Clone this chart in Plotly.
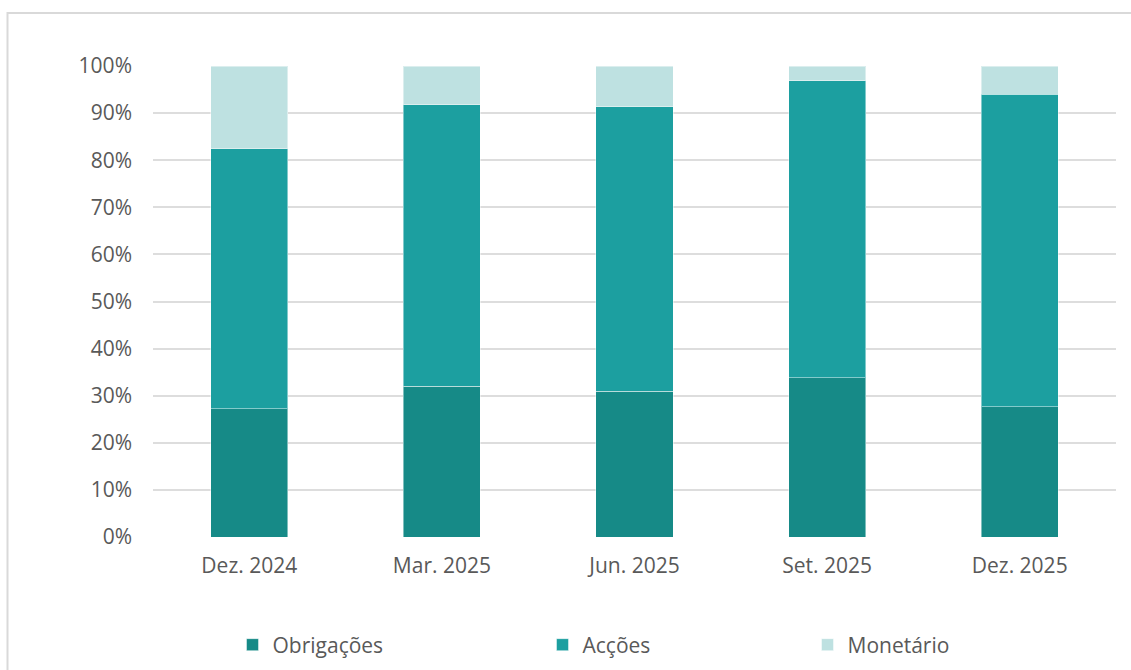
import plotly.graph_objects as go

# Composição da carteira por trimestre (% do total)
periodos = ["Dez. 2024", "Mar. 2025", "Jun. 2025", "Set. 2025", "Dez. 2025"]
obrigacoes = [27.2, 32.0, 30.9, 33.8, 27.7]
accoes = [55.2, 59.8, 60.5, 63.1, 66.3]
monetario = [17.6, 8.2, 8.6, 3.1, 6.0]

series = [
    ("Obrigações", obrigacoes, "#168A87", "legend"),
    ("Acções", accoes, "#1C9FA0", "legend2"),
    ("Monetário", monetario, "#BEE1E1", "legend3"),
]

FONT = "Open Sans, sans-serif"
TXT = "#595959"
FS = 21

fig = go.Figure()
for nome, valores, cor, leg in series:
    fig.add_trace(go.Bar(
        x=periodos, y=valores, name=nome, legend=leg, showlegend=True,
        marker=dict(color=cor, line=dict(color="rgba(255,255,255,0.45)", width=1)),
        hovertemplate="%{x}<br>" + nome + ": %{y:.1f}%<extra></extra>",
    ))

W, H = 1131, 670
ml, mr, mt, mb = 153, 15, 66, 133
pw, ph = W - ml - mr, H - mt - mb

def px_x(px):
    return (px - ml) / pw

def px_y(py):
    return (H - mb - py) / ph

legend_common = dict(
    orientation="h", yanchor="middle", xanchor="left",
    xref="container", yref="container",
    y=1 - 645 / H, font=dict(family=FONT, size=FS, color=TXT),
    bgcolor="rgba(0,0,0,0)",
)

fig.update_layout(
    width=W, height=H,
    margin=dict(l=ml, r=mr, t=mt, b=mb, autoexpand=False),
    paper_bgcolor="white", plot_bgcolor="white",
    barmode="stack", bargap=0.6, showlegend=True,
    font=dict(family=FONT, size=FS, color=TXT),
    legend=dict(legend_common, x=232.5 / W),
    legend2=dict(legend_common, x=542.5 / W),
    legend3=dict(legend_common, x=807.5 / W),
    xaxis=dict(
        showline=False, showgrid=False, ticks="",
        ticklabelstandoff=14,
        tickfont=dict(family=FONT, size=FS, color=TXT),
    ),
    yaxis=dict(
        range=[0, 100], dtick=10, ticksuffix="%",
        showgrid=True, gridcolor="#DDDDDD", gridwidth=2,
        zeroline=False, showline=False, ticks="",
        ticklabelstandoff=20,
        tickfont=dict(family=FONT, size=FS, color=TXT),
    ),
    shapes=[dict(
        type="rect", xref="paper", yref="paper", layer="below",
        x0=px_x(7.5), x1=px_x(1140), y0=px_y(680), y1=px_y(13),
        line=dict(color="#D9D9D9", width=2), fillcolor="rgba(0,0,0,0)",
    )],
)

fig.write_html("out.html")
